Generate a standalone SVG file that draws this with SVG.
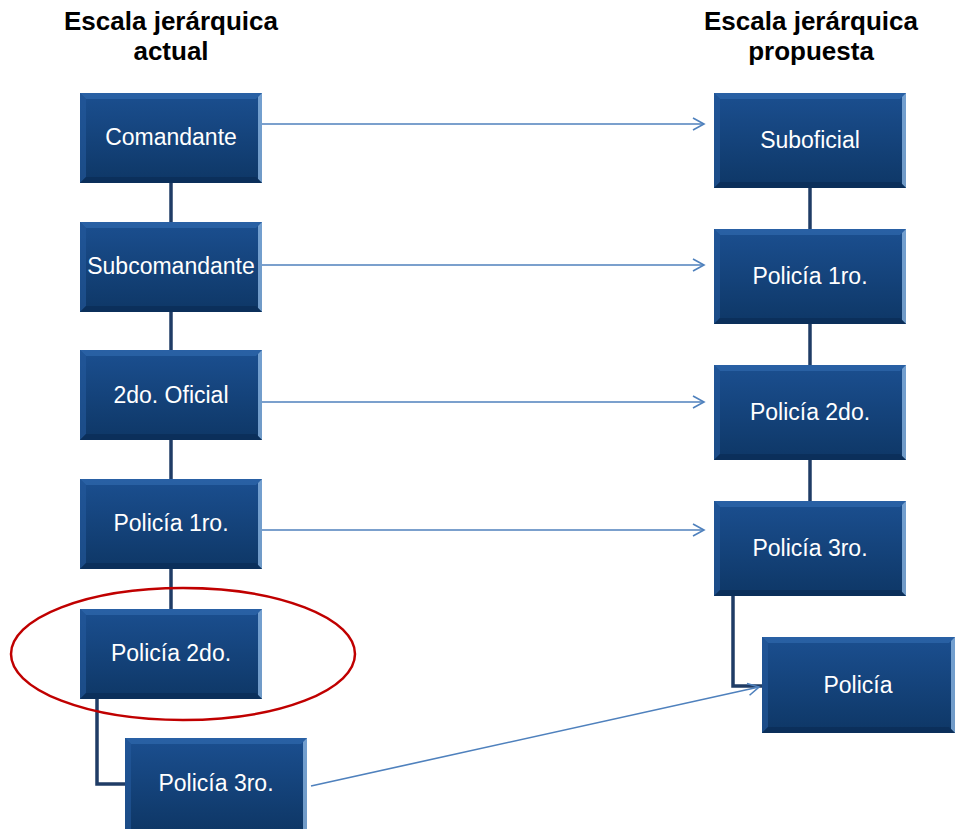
<svg xmlns="http://www.w3.org/2000/svg" width="959" height="829" viewBox="0 0 959 829">
<defs>
<linearGradient id="g" x1="0" y1="0" x2="0" y2="1">
<stop offset="0" stop-color="#1b4f90"/>
<stop offset="1" stop-color="#0e3766"/>
</linearGradient>
<marker id="a" markerWidth="14" markerHeight="14" refX="12" refY="7" orient="auto" markerUnits="userSpaceOnUse">
<path d="M1,1 L12,7 L1,13" fill="none" stroke="#4f81bd" stroke-width="1.6"/>
</marker>
<style>
.t{font-family:"Liberation Sans",Arial,sans-serif;font-weight:bold;font-size:26px;fill:#000;text-anchor:middle}
.l{font-family:"Liberation Sans",Arial,sans-serif;font-size:23px;fill:#fff;text-anchor:middle}
.b{fill:url(#g)}
.bt{fill:#2f68ad;opacity:0.7}
.bl{fill:#245a9c;opacity:0.6}
.br{fill:#8ab4e0;opacity:0.8}
.bb{fill:#0a2c55;opacity:0.7}
.h{stroke:#1f3c66;stroke-width:3.5;fill:none}
.c{stroke:#4f81bd;stroke-width:1.6;fill:none;marker-end:url(#a)}
</style>
</defs>
<rect width="959" height="829" fill="#fff"/>
<text class="t" x="171" y="30">Escala jerárquica</text>
<text class="t" x="171" y="60">actual</text>
<text class="t" x="811" y="30">Escala jerárquica</text>
<text class="t" x="811" y="60">propuesta</text>

<g id="connectors">
<line class="h" x1="171" y1="183" x2="171" y2="222"/>
<line class="h" x1="171" y1="312" x2="171" y2="350"/>
<line class="h" x1="171" y1="440" x2="171" y2="479"/>
<line class="h" x1="171" y1="569" x2="171" y2="609"/>
<polyline class="h" points="97,699 97,784 125,784"/>
<line class="h" x1="810" y1="188" x2="810" y2="229"/>
<line class="h" x1="810" y1="324" x2="810" y2="365"/>
<line class="h" x1="810" y1="460" x2="810" y2="501"/>
<polyline class="h" points="733,596 733,686 762,686"/>
<line class="c" x1="262" y1="124" x2="704" y2="124"/>
<line class="c" x1="262" y1="265" x2="704" y2="265"/>
<line class="c" x1="262" y1="402" x2="704" y2="402"/>
<line class="c" x1="262" y1="530" x2="704" y2="530"/>
<line class="c" x1="311" y1="786" x2="759" y2="687"/>
</g>

<g id="n1"><rect class="b" x="80" y="93" width="182" height="90"/><polygon class="bt" points="80,93 262,93 256,99 86,99"/><polygon class="bl" points="80,93 86,99 86,177 80,183"/><polygon class="br" points="262,93 262,183 258,179 258,97"/><polygon class="bb" points="80,183 86,177 256,177 262,183"/><text class="l" x="171" y="145">Comandante</text></g>
<g id="n2"><rect class="b" x="80" y="222" width="182" height="90"/><polygon class="bt" points="80,222 262,222 256,228 86,228"/><polygon class="bl" points="80,222 86,228 86,306 80,312"/><polygon class="br" points="262,222 262,312 258,308 258,226"/><polygon class="bb" points="80,312 86,306 256,306 262,312"/><text class="l" x="171" y="274">Subcomandante</text></g>
<g id="n3"><rect class="b" x="80" y="350" width="182" height="90"/><polygon class="bt" points="80,350 262,350 256,356 86,356"/><polygon class="bl" points="80,350 86,356 86,434 80,440"/><polygon class="br" points="262,350 262,440 258,436 258,354"/><polygon class="bb" points="80,440 86,434 256,434 262,440"/><text class="l" x="171" y="403">2do. Oficial</text></g>
<g id="n4"><rect class="b" x="80" y="479" width="182" height="90"/><polygon class="bt" points="80,479 262,479 256,485 86,485"/><polygon class="bl" points="80,479 86,485 86,563 80,569"/><polygon class="br" points="262,479 262,569 258,565 258,483"/><polygon class="bb" points="80,569 86,563 256,563 262,569"/><text class="l" x="171" y="531">Policía 1ro.</text></g>
<g id="n5"><rect class="b" x="80" y="609" width="182" height="90"/><polygon class="bt" points="80,609 262,609 256,615 86,615"/><polygon class="bl" points="80,609 86,615 86,693 80,699"/><polygon class="br" points="262,609 262,699 258,695 258,613"/><polygon class="bb" points="80,699 86,693 256,693 262,699"/><text class="l" x="171" y="661">Policía 2do.</text></g>
<g id="n6"><rect class="b" x="125" y="738" width="182" height="92"/><polygon class="bt" points="125,738 307,738 301,744 131,744"/><polygon class="bl" points="125,738 131,744 131,829 125,829"/><polygon class="br" points="307,738 307,829 303,829 303,742"/><text class="l" x="216" y="791">Policía 3ro.</text></g>

<g id="m1"><rect class="b" x="714" y="93" width="192" height="95"/><polygon class="bt" points="714,93 906,93 900,99 720,99"/><polygon class="bl" points="714,93 720,99 720,182 714,188"/><polygon class="br" points="906,93 906,188 902,184 902,97"/><polygon class="bb" points="714,188 720,182 900,182 906,188"/><text class="l" x="810" y="148">Suboficial</text></g>
<g id="m2"><rect class="b" x="714" y="229" width="192" height="95"/><polygon class="bt" points="714,229 906,229 900,235 720,235"/><polygon class="bl" points="714,229 720,235 720,318 714,324"/><polygon class="br" points="906,229 906,324 902,320 902,233"/><polygon class="bb" points="714,324 720,318 900,318 906,324"/><text class="l" x="810" y="284">Policía 1ro.</text></g>
<g id="m3"><rect class="b" x="714" y="365" width="192" height="95"/><polygon class="bt" points="714,365 906,365 900,371 720,371"/><polygon class="bl" points="714,365 720,371 720,454 714,460"/><polygon class="br" points="906,365 906,460 902,456 902,369"/><polygon class="bb" points="714,460 720,454 900,454 906,460"/><text class="l" x="810" y="420">Policía 2do.</text></g>
<g id="m4"><rect class="b" x="714" y="501" width="192" height="95"/><polygon class="bt" points="714,501 906,501 900,507 720,507"/><polygon class="bl" points="714,501 720,507 720,590 714,596"/><polygon class="br" points="906,501 906,596 902,592 902,505"/><polygon class="bb" points="714,596 720,590 900,590 906,596"/><text class="l" x="810" y="556">Policía 3ro.</text></g>
<g id="m5"><rect class="b" x="762" y="637" width="193" height="96"/><polygon class="bt" points="762,637 955,637 949,643 768,643"/><polygon class="bl" points="762,637 768,643 768,727 762,733"/><polygon class="br" points="955,637 955,733 951,729 951,641"/><polygon class="bb" points="762,733 768,727 949,727 955,733"/><text class="l" x="858" y="693">Policía</text></g>

<g id="highlight"><ellipse cx="183" cy="654" rx="172" ry="66" fill="none" stroke="#c00000" stroke-width="2.5"/></g>
</svg>
